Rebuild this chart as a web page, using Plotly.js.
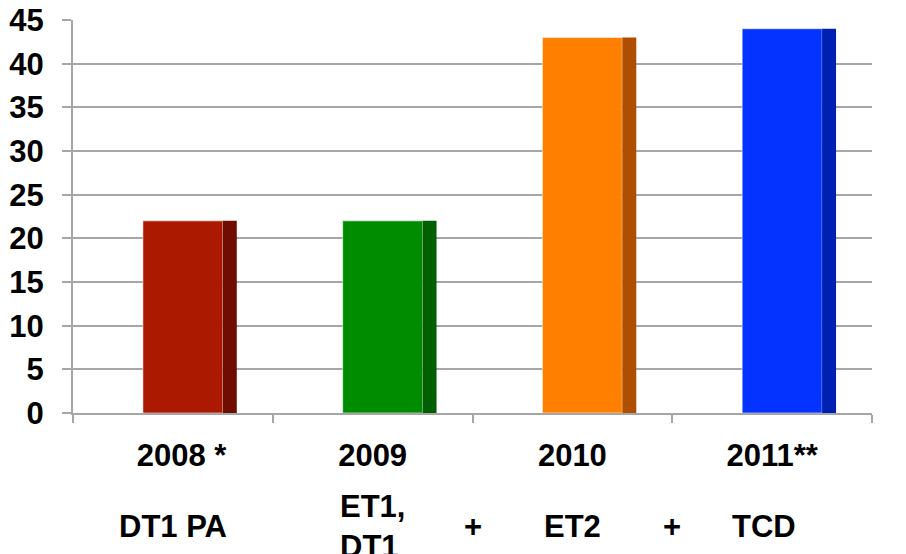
<!DOCTYPE html>
<html>
<head>
<meta charset="utf-8">
<script src="https://cdn.plot.ly/plotly-3.0.1.min.js"></script>
<style>
  html, body { margin: 0; padding: 0; background: #ffffff; }
  #chart { width: 906px; height: 554px; }
</style>
</head>
<body>
<div id="chart"></div>
<script>
// Year labels along the x axis and the values shown by each column
const years = ["&nbsp;&nbsp;2008 *", "2009", "2010", "2011**"];
const values = [22, 22, 43, 44];
// Treatment regimen written under each year
const regimens = ["DT1 PA", "ET1,<br>DT1", "ET2", "TCD"];
const joiners = ["+", "+"];
// Column face colours and the darker shade used for the side of each column
const faceColors = ["#AB1900", "#008C00", "#FF8000", "#0433FF"];
const sideColors = ["#6F0E00", "#005F00", "#B04E00", "#0020B2"];

const idx = years.map((_, i) => i);
const FONT = "Liberation Sans, Arial, sans-serif";

// Front face of each column
const front = {
  type: "bar",
  x: idx,
  y: values,
  width: idx.map(() => 0.40),
  offset: idx.map(() => -0.15),
  marker: { color: faceColors, line: { color: "rgba(255,255,255,0.55)", width: 1 } },
  hoverinfo: "skip"
};
// Shaded side strip drawn right of the face to give depth
const side = {
  type: "bar",
  x: idx,
  y: values,
  width: idx.map(() => 0.07),
  offset: idx.map(() => 0.25),
  marker: { color: sideColors, line: { width: 0 } },
  hoverinfo: "skip"
};

const annotations = [];
regimens.forEach((t, i) => {
  annotations.push({
    x: i, y: -0.29, xref: "x", yref: "paper",
    text: "<b>" + t + "</b>", showarrow: false,
    xanchor: "center", yanchor: "middle", align: "left",
    xshift: i === 3 ? -8 : 0,
    font: { family: FONT, size: 31, color: "#000000" }
  });
});
joiners.forEach((t, k) => {
  annotations.push({
    x: k + 1.5, y: -0.29, xref: "x", yref: "paper",
    text: "<b>" + t + "</b>", showarrow: false,
    xanchor: "center", yanchor: "middle",
    font: { family: FONT, size: 31, color: "#000000" }
  });
});

const layout = {
  width: 906,
  height: 554,
  margin: { l: 73, r: 34, t: 20, b: 141 },
  paper_bgcolor: "#ffffff",
  plot_bgcolor: "#ffffff",
  showlegend: false,
  barmode: "overlay",
  font: { family: FONT, size: 31, color: "#000000" },
  xaxis: {
    type: "linear",
    range: [-0.5, 3.5],
    tickmode: "array",
    tickvals: idx,
    ticktext: years.map(s => "<b>" + s + "</b>"),
    ticks: "",
    ticklabelstandoff: 14,
    showgrid: false,
    zeroline: false,
    showline: true,
    linecolor: "#A6A6A6",
    linewidth: 2,
    minor: {
      tickvals: [-0.5, 0.5, 1.5, 2.5, 3.5],
      ticks: "outside",
      ticklen: 8,
      tickwidth: 2,
      tickcolor: "#A6A6A6",
      showgrid: false
    },
    fixedrange: true
  },
  yaxis: {
    range: [0, 45],
    tick0: 0,
    dtick: 5,
    ticks: "outside",
    ticklen: 9,
    tickwidth: 2,
    tickcolor: "#A6A6A6",
    tickfont: { family: FONT, size: 31, color: "#000000", weight: "bold" },
    ticklabelstandoff: 12,
    showgrid: true,
    gridcolor: "#A6A6A6",
    gridwidth: 2,
    zeroline: false,
    showline: true,
    linecolor: "#A6A6A6",
    linewidth: 2,
    fixedrange: true
  },
  annotations: annotations
};

Plotly.newPlot("chart", [front, side], layout, { staticPlot: true, displayModeBar: false });
</script>
</body>
</html>
